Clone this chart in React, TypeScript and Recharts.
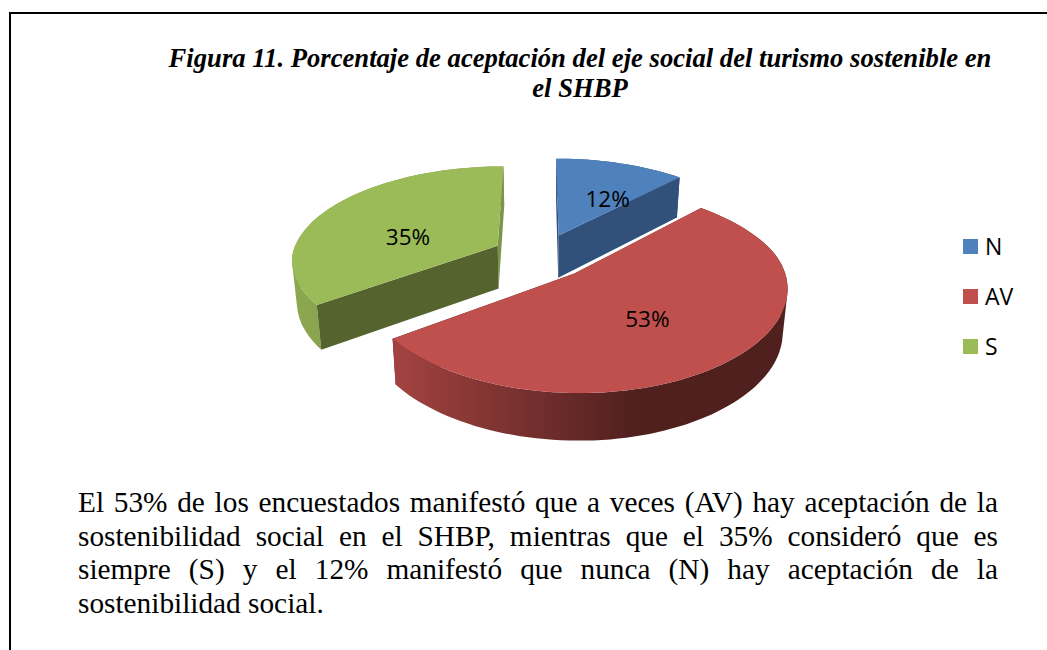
import { PieChart, Pie, Cell, Legend } from "recharts";

const CATEGORIES = ["N", "AV", "S"];
const PERCENTS = [12, 53, 35];
const COLORS = ["#4f81bd", "#c0504d", "#9bbb59"];
const CUT_WALLS = ["#31507a", "#4f201e", "#55632f"];
const RIM_FROM = ["#3d6391", "#a34341", "#8ca84f"];
const RIM_TO = ["#31507a", "#4f201e", "#7b944a"];

const TITLE_LINES = [
  "Figura 11. Porcentaje de aceptación del eje social del turismo sostenible en",
  "el SHBP",
];
const BODY_LINES = [
  "El 53% de los encuestados manifestó que a veces (AV) hay aceptación de la",
  "sostenibilidad social en el SHBP, mientras que el 35% consideró que es",
  "siempre (S) y el 12% manifestó que nunca (N) hay aceptación de la",
  "sostenibilidad social.",
];

const data = CATEGORIES.map((name, i) => ({ name, value: PERCENTS[i] }));

// fake 3D: the pie lies on a tilted plane, seen in perspective
const SQUASH = 0.46;
const PERSPECTIVE = 0.156;
const EXPLODE = 0.24;
const DEPTH = 43;
const CONVERGE = 0.98;
const RAD = Math.PI / 180;

type Pt = { x: number; y: number };

function project(cx: number, cy: number, r: number, x: number, y: number) {
  const s = 1 / (1 - PERSPECTIVE * y);
  const sx = s < 1 ? s : Math.pow(s, 0.8);
  return { x: cx + r * x * sx, y: cy + r * SQUASH * y * s, s };
}

function polar(angle: number, dist: number) {
  // recharts angle: counter-clockwise from 3 o'clock, y grows towards the viewer
  return { x: Math.cos(angle * RAD) * dist, y: -Math.sin(angle * RAD) * dist };
}

// one closed subpath, always wound the same way so overlaps stay filled
function quadPath(pts: Pt[]) {
  let area = 0;
  pts.forEach((p, i) => {
    const n = pts[(i + 1) % pts.length];
    area += p.x * n.y - n.x * p.y;
  });
  const ordered = area < 0 ? [...pts].reverse() : pts;
  return "M" + ordered.map((p) => `${p.x.toFixed(1)} ${p.y.toFixed(1)}`).join("L") + "Z";
}

function Slice3D(props: any) {
  const { cx, cy, outerRadius, startAngle, endAngle, index, fill } = props;
  const mid = (startAngle + endAngle) / 2;
  const off = polar(mid, EXPLODE);

  const at = (x: number, y: number) => project(cx, cy, outerRadius, off.x + x, off.y + y);
  const down = (p: { x: number; y: number; s: number }) => ({
    x: cx + (p.x - cx) * CONVERGE,
    y: p.y + DEPTH * Math.sqrt(p.s),
  });
  const str = (pts: Pt[]) =>
    pts.map((p) => `${p.x.toFixed(1)},${p.y.toFixed(1)}`).join(" ");

  const arc = [];
  const steps = Math.ceil(Math.abs(endAngle - startAngle) / 2);
  for (let k = 0; k <= steps; k++) {
    const a = startAngle + ((endAngle - startAngle) * k) / steps;
    const p = polar(a, 1);
    arc.push(at(p.x, p.y));
  }
  const apex = at(0, 0);
  const first = arc[0];
  const last = arc[arc.length - 1];
  const xs = arc.map((p) => p.x);
  const left = Math.min(...xs);
  const right = Math.max(...xs);
  const gradId = `rim-${index}`;

  // a cut face is seen only if its normal points to the viewer
  const firstFaces = Math.cos(startAngle * RAD) < -0.1;
  const lastFaces = Math.cos(endAngle * RAD) > 0.1;
  const wall = (p: { x: number; y: number; s: number }, color: string) => (
    <polygon points={str([apex, p, down(p), down(apex)])} fill={color} />
  );
  const rim = arc
    .slice(1)
    .map((p, k) => quadPath([arc[k], p, down(p), down(arc[k])]))
    .join("");

  return (
    <g>
      <defs>
        <linearGradient
          id={gradId}
          gradientUnits="userSpaceOnUse"
          x1={left}
          x2={left + (right - left) * 0.62}
          y1={0}
          y2={0}
        >
          <stop offset="0%" stopColor={RIM_FROM[index]} />
          <stop offset="100%" stopColor={RIM_TO[index]} />
        </linearGradient>
      </defs>
      {!firstFaces && wall(first, RIM_TO[index])}
      {!lastFaces && wall(last, RIM_TO[index])}
      <path d={rim} fill={`url(#${gradId})`} />
      {firstFaces && wall(first, CUT_WALLS[index])}
      {lastFaces && wall(last, CUT_WALLS[index])}
      <polygon points={str([apex, ...arc])} fill={fill} />
    </g>
  );
}

// small hand nudges, Excel does not centre its labels radially
const LABEL_NUDGE = [
  [16, 1],
  [-2, 5],
  [-4, 11],
];

function renderLabel(props: any) {
  const { cx, cy, outerRadius, midAngle, index, value } = props;
  const dist = EXPLODE + 0.5;
  const p = polar(midAngle, dist);
  const q = project(cx, cy, outerRadius, p.x, p.y);
  return (
    <text
      x={q.x + LABEL_NUDGE[index][0]}
      y={q.y + LABEL_NUDGE[index][1]}
      textAnchor="middle"
      dominantBaseline="central"
      fontFamily="'Open Sans'"
      fontSize={22.5}
      fill="#000"
    >
      {`${value}%`}
    </text>
  );
}

function LegendList({ payload }: any) {
  return (
    <div style={{ fontFamily: "'Open Sans'", fontSize: 23, color: "#000" }}>
      {(payload || []).map((entry: any) => (
        <div key={entry.value} style={{ display: "flex", alignItems: "center", height: 50 }}>
          <span style={{ width: 15, height: 15, background: entry.color, marginRight: 7 }} />
          <span>{entry.value}</span>
        </div>
      ))}
    </div>
  );
}

const textLine = {
  position: "absolute",
  fontFamily: "'Liberation Serif'",
  whiteSpace: "nowrap",
  color: "#000",
} as const;

export default function App() {
  return (
    <div
      style={{
        position: "absolute",
        left: 0,
        top: 0,
        width: 1047,
        height: 650,
        background: "#fff",
        overflow: "hidden",
      }}
    >
      <div style={{ position: "absolute", left: 9, top: 12, width: 2, height: 638, background: "#000" }} />
      <div style={{ position: "absolute", left: 9, top: 12, width: 1038, height: 2, background: "#000" }} />

      {TITLE_LINES.map((line, i) => (
        <div
          key={i}
          style={{
            ...textLine,
            left: 80,
            width: 1000,
            textAlign: "center",
            top: 43 + i * 30,
            lineHeight: "30px",
            fontSize: 26.65,
            fontWeight: "bold",
            fontStyle: "italic",
          }}
        >
          {line}
        </div>
      ))}

      <PieChart width={1047} height={650} margin={{ top: 0, right: 0, bottom: 0, left: 0 }}>
        <Pie
          data={data}
          dataKey="value"
          nameKey="name"
          cx={541}
          cy={256}
          outerRadius={206}
          startAngle={90}
          endAngle={-270}
          stroke="none"
          shape={Slice3D}
          label={renderLabel}
          labelLine={false}
          isAnimationActive={false}
        >
          {data.map((_, i) => (
            <Cell key={i} fill={COLORS[i]} />
          ))}
        </Pie>
        <Legend
          layout="vertical"
          align="right"
          verticalAlign="middle"
          content={LegendList}
          itemSorter={null}
          wrapperStyle={{ left: 963, top: 221, width: 80 }}
        />
      </PieChart>

      {BODY_LINES.map((line, i) => (
        <div
          key={i}
          style={{
            ...textLine,
            left: 78,
            top: 485 + i * 33.7,
            width: 920,
            lineHeight: "34px",
            fontSize: 29.3,
            whiteSpace: "normal",
            textAlign: "justify",
            textAlignLast: i < BODY_LINES.length - 1 ? "justify" : "left",
          }}
        >
          {line}
        </div>
      ))}
    </div>
  );
}
